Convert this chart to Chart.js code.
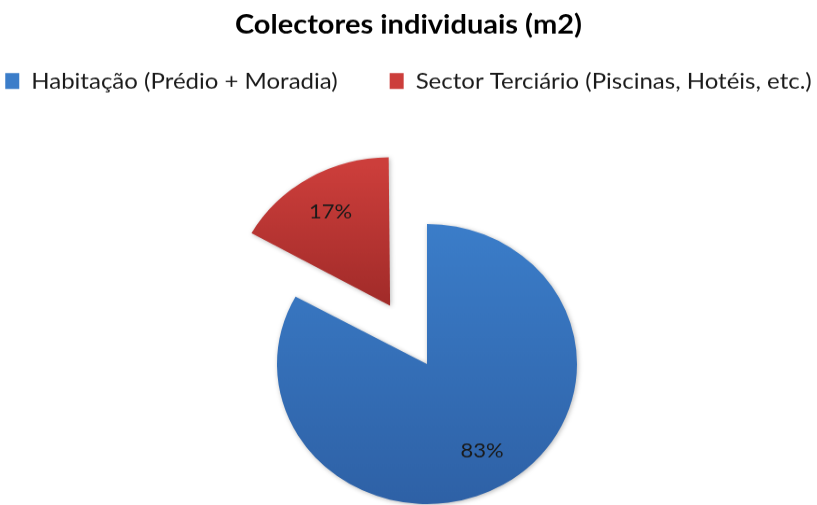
<!DOCTYPE html>
<html>
<head>
<meta charset="utf-8">
<script src="https://cdn.jsdelivr.net/npm/chart.js@4.4.1/dist/chart.umd.min.js"></script>
<style>
  html, body { margin: 0; padding: 0; background: #fff; }
</style>
</head>
<body>
<!-- desenhado a 541px de altura e comprimido para 505px -->
<canvas id="pieChart" width="817" height="541" style="display:block;width:817px;height:505px"></canvas>
<script>
// dados do gráfico
const chartTitle = "Colectores individuais (m2)";
const categories = ["Habitação (Prédio + Moradia)", "Sector Terciário (Piscinas, Hotéis, etc.)"];
const shares = [83, 17];
const colorsLight = ["#3B7DC9", "#CC3E3B"];
const colorsDark = ["#2E61A6", "#A12B29"];
const explode = [0, 290];

// deslocamento real aplicado pelo ArcElement ao desenhar uma fatia destacada
function arcShift(arc) {
  const off = (arc.options.offset || 0) / 4;
  return off * (2 - Math.sin(Math.min(Math.PI, arc.circumference)));
}

// move o centro do gráfico (a área do gráfico não aceita padding negativo)
const pieShift = {
  id: "pieShift",
  afterLayout(chart, args, opts) {
    const a = chart.chartArea;
    a.left += opts.dx;
    a.right += opts.dx;
    a.top += opts.dy;
    a.bottom += opts.dy;
  },
};

// gradiente vertical e sombra suave em cada fatia
const sliceShading = {
  id: "sliceShading",
  beforeDatasetsDraw(chart) {
    const ctx = chart.ctx;
    chart.getDatasetMeta(0).data.forEach((arc, i) => {
      let top = arc.y, bottom = arc.y;
      for (let k = 0; k <= 40; k++) {
        const a = arc.startAngle + (arc.endAngle - arc.startAngle) * k / 40;
        const y = arc.y + Math.sin(a) * arc.outerRadius;
        top = Math.min(top, y);
        bottom = Math.max(bottom, y);
      }
      const g = ctx.createLinearGradient(0, top, 0, bottom);
      g.addColorStop(0, colorsLight[i]);
      g.addColorStop(1, colorsDark[i]);
      arc.options.backgroundColor = g;
    });
    ctx.save();
    ctx.shadowColor = "rgba(0, 0, 0, 0.28)";
    ctx.shadowBlur = 5;
    ctx.shadowOffsetX = 1;
    ctx.shadowOffsetY = 1;
  },
  afterDatasetsDraw(chart) {
    chart.ctx.restore();
  },
};

// percentagens dentro das fatias
const sliceLabels = {
  id: "sliceLabels",
  afterDatasetsDraw(chart) {
    const ctx = chart.ctx;
    const total = shares.reduce((s, v) => s + v, 0);
    ctx.save();
    ctx.font = "22px Lato";
    ctx.fillStyle = "#1a1a1a";
    ctx.textAlign = "center";
    ctx.textBaseline = "middle";
    chart.getDatasetMeta(0).data.forEach((arc, i) => {
      const mid = (arc.startAngle + arc.endAngle) / 2;
      const r = arcShift(arc) + arc.outerRadius * 0.72;
      const x = arc.x + Math.cos(mid) * r;
      const y = arc.y + Math.sin(mid) * r;
      ctx.fillText(Math.round(shares[i] / total * 100) + "%", x, y);
    });
    ctx.restore();
  },
};

const pieChart = new Chart(document.getElementById("pieChart"), {
  type: "pie",
  data: {
    labels: categories,
    datasets: [
      {
        data: shares,
        backgroundColor: colorsLight,
        borderWidth: 0,
        offset: explode,
        clip: false,
      },
    ],
  },
  options: {
    responsive: false,
    animation: false,
    radius: 150,
    // margem negativa só para dar largura à legenda numa linha
    layout: { padding: { left: -60, right: -60, top: 0, bottom: 0 } },
    plugins: {
      pieShift: { dx: 18.5, dy: 65 },
      title: {
        display: true,
        text: chartTitle,
        color: "#000",
        font: { family: "Lato", size: 29, weight: "bold" },
        padding: { top: 9, bottom: -21 },
      },
      legend: {
        position: "top",
        labels: {
          color: "#1a1a1a",
          font: { family: "Lato", size: 24 },
          boxWidth: 14,
          boxHeight: 17,
          padding: 52,
        },
      },
      tooltip: { enabled: false },
    },
  },
  plugins: [pieShift, sliceShading, sliceLabels],
});
</script>
</body>
</html>
